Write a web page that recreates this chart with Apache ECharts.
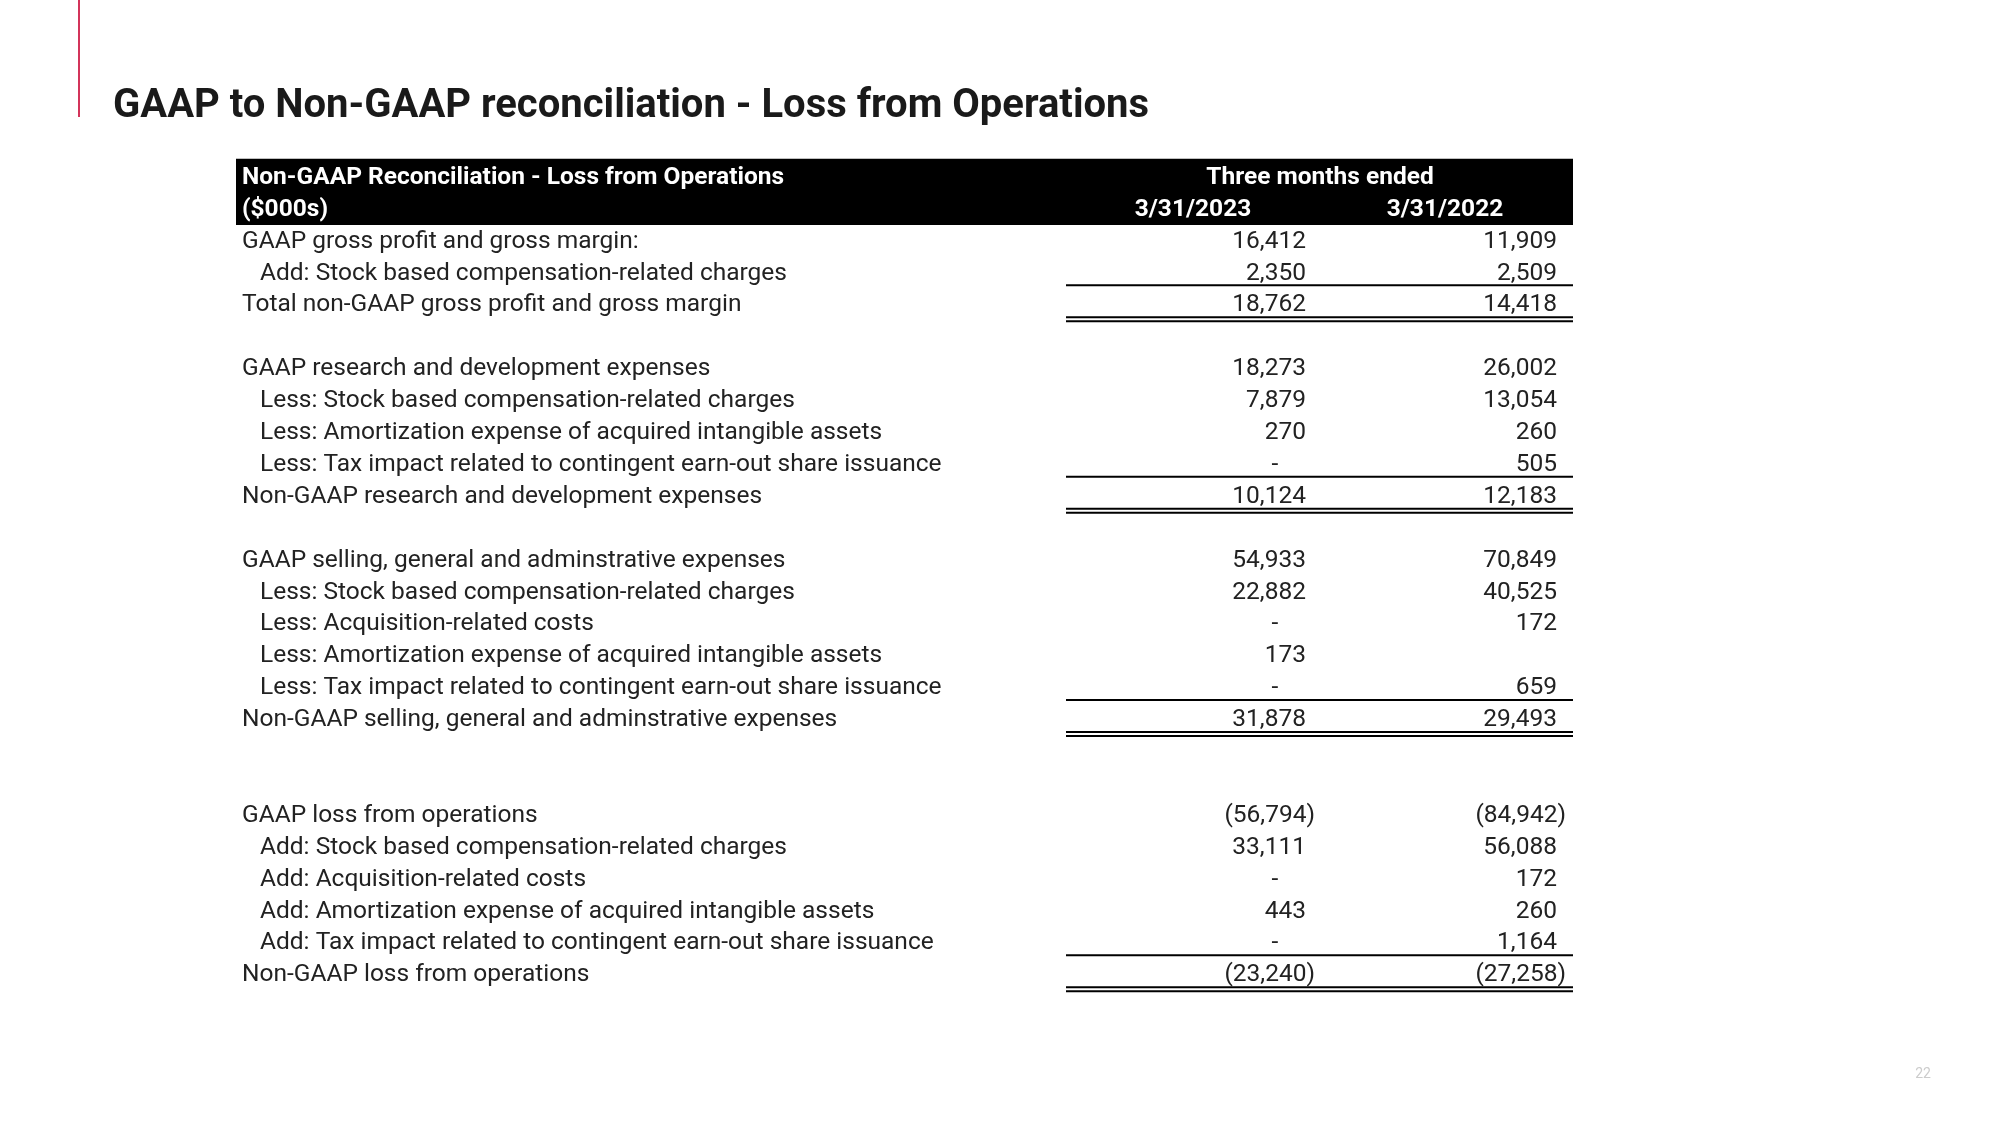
<!DOCTYPE html>
<html><head><meta charset="utf-8">
<script src="https://cdn.jsdelivr.net/npm/echarts@6/dist/echarts.min.js"></script>
<style>html,body{margin:0;padding:0;background:#fff}#c{width:2000px;height:1125px}</style>
</head><body><div id="c"></div>
<script>
// ---------- data ----------
const pageTitle = 'GAAP to Non-GAAP reconciliation - Loss from Operations';
const headerLines = ['Non-GAAP Reconciliation - Loss from Operations', '($000s)'];
const periodHeader = 'Three months ended';
const periods = ['3/31/2023', '3/31/2022'];
const rowLabels = [
  'GAAP gross profit and gross margin:',
  'Add: Stock based compensation-related charges',
  'Total non-GAAP gross profit and gross margin',
  '',
  'GAAP research and development expenses',
  'Less: Stock based compensation-related charges',
  'Less: Amortization expense of acquired intangible assets',
  'Less: Tax impact related to contingent earn-out share issuance',
  'Non-GAAP research and development expenses',
  '',
  'GAAP selling, general and adminstrative expenses',
  'Less: Stock based compensation-related charges',
  'Less: Acquisition-related costs',
  'Less: Amortization expense of acquired intangible assets',
  'Less: Tax impact related to contingent earn-out share issuance',
  'Non-GAAP selling, general and adminstrative expenses',
  '',
  '',
  'GAAP loss from operations',
  'Add: Stock based compensation-related charges',
  'Add: Acquisition-related costs',
  'Add: Amortization expense of acquired intangible assets',
  'Add: Tax impact related to contingent earn-out share issuance',
  'Non-GAAP loss from operations'
];
const values2023 = [16412, 2350, 18762, null, 18273, 7879, 270, 0, 10124, null, 54933, 22882, 0, 173, 0, 31878, null, null, -56794, 33111, 0, 443, 0, -23240];
const values2022 = [11909, 2509, 14418, null, 26002, 13054, 260, 505, 12183, null, 70849, 40525, 172, null, 659, 29493, null, null, -84942, 56088, 172, 260, 1164, -27258];
const totalRows = [2, 8, 15, 23];
const pageNumber = '22';

// ---------- layout / style ----------
const BODY_FONT = "'Roboto', sans-serif";
const TEXT_COLOR = '#222222';
const FS = 24.5;
const TY = 3;           // vertical text nudge
const TABLE_L = 236, TABLE_R = 1573;
const LABEL_X = 242, INDENT = 18;
const COL_R = [1306, 1557];
const COL_C = [1193, 1445];
const PERIOD_C = 1320;
const LINE_L = 1066;

function fmt(v) {
  if (v === null || v === undefined) return '';
  if (v === 0) return '-';
  const s = Math.abs(v).toLocaleString('en-US');
  return v < 0 ? '(' + s + ')' : s;
}

const nHeader = headerLines.length;
const categories = [];
for (let i = 0; i < nHeader + rowLabels.length; i++) categories.push('r' + i);
const seriesData = categories.map((c, i) => [0, i]);

function txt(x, y, text, opts) {
  return {
    type: 'text', z2: 10,
    style: Object.assign({
      x: x, y: y + TY, text: text, fill: TEXT_COLOR,
      fontFamily: BODY_FONT, fontSize: FS,
      align: 'left', verticalAlign: 'middle'
    }, opts || {})
  };
}

function renderItem(params, api) {
  const idx = params.dataIndex;
  const yc = api.coord([0, idx])[1];
  const band = api.size([0, 1])[1];
  const X = v => api.coord([v, idx])[0];
  const children = [];
  if (idx < nHeader) {
    if (idx === 0) {
      children.push({
        type: 'rect', z2: 1,
        shape: { x: X(TABLE_L), y: yc - band / 2, width: X(TABLE_R) - X(TABLE_L), height: band * nHeader + 2.5 },
        style: { fill: '#000' }
      });
      children.push(txt(X(LABEL_X), yc, headerLines[0], { fill: '#fff', fontWeight: 'bold' }));
      children.push(txt(X(PERIOD_C), yc, periodHeader, { fill: '#fff', fontWeight: 'bold', align: 'center' }));
    } else {
      children.push(txt(X(LABEL_X), yc, headerLines[idx], { fill: '#fff', fontWeight: 'bold' }));
      periods.forEach((p, k) => children.push(txt(X(COL_C[k]), yc, p, { fill: '#fff', fontWeight: 'bold', align: 'center' })));
    }
    return { type: 'group', children: children };
  }
  const r = idx - nHeader;
  const label = rowLabels[r];
  const indented = /^(Add|Less):/.test(label);
  children.push(txt(X(LABEL_X + (indented ? INDENT : 0)), yc, label));
  [values2023[r], values2022[r]].forEach((v, k) => {
    const s = fmt(v);
    if (!s) return;
    if (v === 0) children.push(txt(X(COL_R[k] - 31), yc, s, { align: 'center' }));
    else if (v < 0) children.push(txt(X(COL_R[k] + 9), yc, s, { align: 'right' }));
    else children.push(txt(X(COL_R[k]), yc, s, { align: 'right' }));
  });
  if (totalRows.indexOf(r) >= 0) {
    const ln = y => ({ type: 'line', z2: 5, shape: { x1: X(LINE_L), y1: y, x2: X(TABLE_R), y2: y }, style: { stroke: '#000', lineWidth: 2 } });
    children.push(ln(yc - 17));
    children.push(ln(yc + 15));
    children.push(ln(yc + 19));
  }
  return { type: 'group', children: children };
}

const chart = echarts.init(document.getElementById('c'), null, { renderer: 'canvas' });
chart.setOption({
  animation: false,
  backgroundColor: '#fff',
  title: {
    text: pageTitle, left: 113, top: 83, padding: 0,
    textStyle: { fontFamily: "'Roboto', sans-serif", fontWeight: 'bold', fontSize: 40, color: '#1a1a1a', lineHeight: 48 }
  },
  grid: { left: 0, right: 0, top: 158.75, bottom: 136.85, containLabel: false },
  xAxis: { type: 'value', min: 0, max: 2000, show: false },
  yAxis: { type: 'category', data: categories, inverse: true, show: false },
  graphic: [
    { type: 'line', shape: { x1: 79, y1: 0, x2: 79, y2: 117 }, style: { stroke: '#d3345a', lineWidth: 2 } },
    { type: 'text', style: { x: 1923, y: 1074, text: pageNumber, fill: '#cccccc', fontSize: 14, fontFamily: "'Roboto', sans-serif", align: 'center', verticalAlign: 'middle' } }
  ],
  series: [{
    type: 'custom',
    renderItem: renderItem,
    data: seriesData,
    encode: { x: 0, y: 1 },
    clip: false
  }]
});
</script></body></html>
